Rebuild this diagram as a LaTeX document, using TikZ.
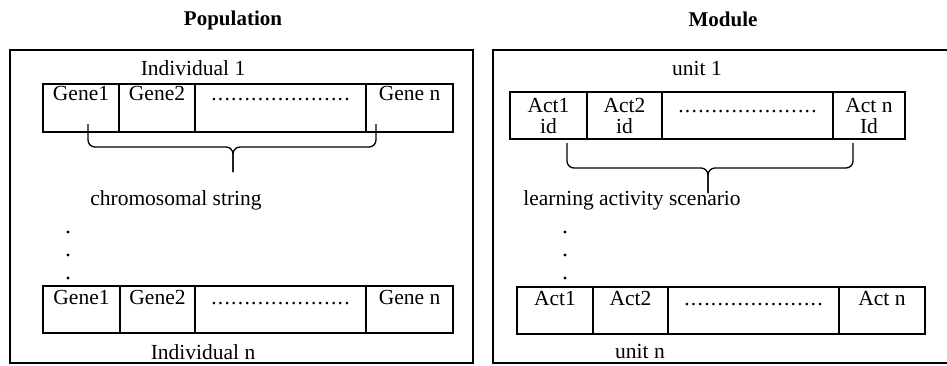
\documentclass[tikz,border=0pt]{standalone}
\usepackage{fontspec}
\setmainfont{Liberation Serif}
\usetikzlibrary{positioning}

% row of dots in the wide middle cell
\newcommand{\dotrun}{\hbox to 146pt{\cleaders\hbox to 6.65pt{\hss.\hss}\hfill}}

\tikzset{
  frame/.style={line width=1.3pt},
  cell/.style={draw, line width=1.6pt, inner sep=0pt, outer sep=0pt,
    text height=17pt, text depth=30pt, anchor=north west},
  brace/.style={line width=1.3pt, rounded corners=7pt},
  caption/.style={anchor=base},
}

\begin{document}
\begin{tikzpicture}[x=1pt, y=-1pt, font=\fontsize{21.5}{21}\selectfont]
    \useasboundingbox (0,0) rectangle (947,365);

    % two frames, the right one runs off the edge
    \draw[frame] (10,50) rectangle (473,363);
    \draw[frame] (493,50) rectangle (960,363);

    \node[caption, font=\fontsize{21}{21}\selectfont\bfseries] (poptitle) at (233,25) {Population};
    \node[caption, font=\fontsize{21}{21}\selectfont\bfseries] (modtitle) at (723,26) {Module};

    % first individual
    \node[caption] (ind1) at (193,75) {Individual 1};
    \node[cell, minimum width=76pt, text height=16pt, text depth=32pt] (g1a) at (43,84) {Gene1};
    \node[cell, minimum width=76pt, text height=16pt, text depth=32pt, right=0pt of g1a] (g1b) {Gene2};
    \node[cell, minimum width=171pt, text height=16pt, text depth=32pt, right=0pt of g1b] (g1c) {\dotrun};
    \node[cell, minimum width=87pt, text height=16pt, text depth=32pt, right=0pt of g1c] (g1d) {Gene n};

    \coordinate (chl) at (88,124);
    \coordinate (chr) at (376,124);
    \coordinate (chm) at (233,147);
    \coordinate (cht) at (233,172);
    \draw[brace] (chl) |- (chm) -- (cht);
    \draw[brace] (chr) |- (chm) -- (cht);
    \node[caption] (chrom) at (176,205) {chromosomal string};

    \foreach \y in {232,255,278}
        \fill (68,\y) circle (1.7pt);

    % last individual
    \node[cell, minimum width=77pt, text height=18pt, text depth=29pt] (gna) at (43,286) {Gene1};
    \node[cell, minimum width=75pt, text height=18pt, text depth=29pt, right=0pt of gna] (gnb) {Gene2};
    \node[cell, minimum width=171pt, text height=18pt, text depth=29pt, right=0pt of gnb] (gnc) {\dotrun};
    \node[cell, minimum width=87pt, text height=18pt, text depth=29pt, right=0pt of gnc] (gnd) {Gene n};
    \node[caption] (indn) at (203,359) {Individual n};

    % first unit
    \node[caption] (unit1) at (697,75) {unit 1};
    \node[cell, minimum width=77pt, text height=41pt, text depth=6pt, align=center] (a1a) at (510,92) {Act1\\id};
    \node[cell, minimum width=75pt, text height=41pt, text depth=6pt, align=center, right=0pt of a1a] (a1b) {Act2\\id};
    \node[cell, minimum width=171pt, text height=20pt, text depth=27pt, right=0pt of a1b] (a1c) {\dotrun};
    \node[cell, minimum width=72pt, text height=41pt, text depth=6pt, align=center, right=0pt of a1c] (a1d) {Act n\\Id};

    \coordinate (scl) at (567,143);
    \coordinate (scr) at (853,143);
    \coordinate (scm) at (708,168);
    \coordinate (sct) at (708,193);
    \draw[brace] (scl) |- (scm) -- (sct);
    \draw[brace] (scr) |- (scm) -- (sct);
    \node[caption] (scen) at (632,205) {learning activity scenario};

    \foreach \y in {232,255,278}
        \fill (565,\y) circle (1.7pt);

    % last unit
    \node[cell, minimum width=76pt, text height=18pt, text depth=29pt] (ana) at (517,287) {Act1};
    \node[cell, minimum width=75pt, text height=18pt, text depth=29pt, right=0pt of ana] (anb) {Act2};
    \node[cell, minimum width=171pt, text height=18pt, text depth=29pt, right=0pt of anb] (anc) {\dotrun};
    \node[cell, minimum width=86pt, text height=18pt, text depth=29pt, right=0pt of anc] (an4) {Act n};
    \node[caption] (unitn) at (640,358) {unit n};
\end{tikzpicture}
\end{document}
